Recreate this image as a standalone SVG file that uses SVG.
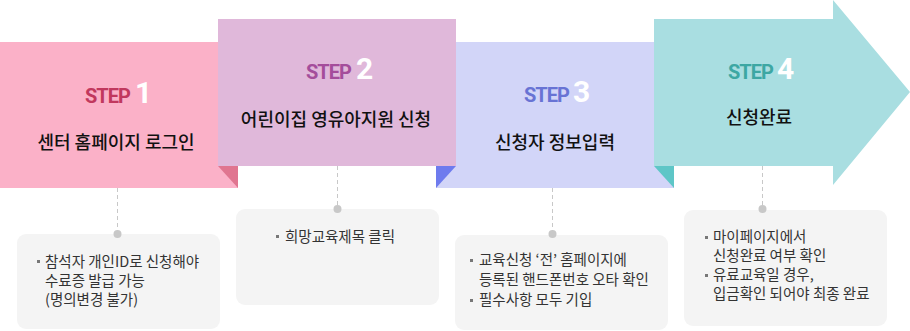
<svg xmlns="http://www.w3.org/2000/svg" width="910" height="331" viewBox="0 0 910 331">
<style>
.kr{font-family:"Noto Sans CJK KR","Noto Sans",sans-serif}
.title{font-size:18px;font-weight:500;fill:#111;text-anchor:middle}
.step{font-family:Roboto,"Liberation Sans",sans-serif;font-weight:700;font-size:20px;letter-spacing:-1px}
.num{font-family:Roboto,"Liberation Sans",sans-serif;font-weight:700;font-size:30px;fill:#fff}
.box{fill:#f4f4f4}
.desc{font-size:14.5px;fill:#333}
.dash{stroke:#c8c8c8;stroke-width:1;stroke-dasharray:4 3;fill:none}
.dot{fill:#c8c8c8}
.bul{fill:#777}
</style>
<g id="step1">
<rect x="0" y="42" width="238" height="146" fill="#fbb1c8"/>
<polygon points="218,166 238,166 238,188" fill="#e07590"/>
<text class="step" x="85" y="103" fill="#c1385e">STEP</text>
<text class="num" x="135" y="103">1</text>
<text class="kr title" x="116" y="149">센터 홈페이지 로그인</text>
</g>
<g id="step3">
<rect x="436" y="42" width="238" height="146" fill="#d2d5f8"/>
<polygon points="436,166 456,166 436,188" fill="#6e7bee"/>
<text class="step" x="524" y="102" fill="#6873d4">STEP</text>
<text class="num" x="573" y="102">3</text>
<text class="kr title" x="555" y="149">신청자 정보입력</text>
</g>
<g id="step2">
<rect x="218" y="19" width="238" height="147" fill="#e0b8da"/>
<text class="step" x="306" y="79" fill="#a44d9b">STEP</text>
<text class="num" x="356" y="79">2</text>
<text class="kr title" x="336" y="126">어린이집 영유아지원 신청</text>
</g>
<g id="step4">
<polygon points="654,19 833,19 833,0 910,92 833,185 833,166 654,166" fill="#a9dee1"/>
<polygon points="654,166 674,166 674,188" fill="#5ec6c7"/>
<text class="step" x="728" y="79" fill="#3da7a3">STEP</text>
<text class="num" x="777" y="79">4</text>
<text class="kr title" x="759" y="124">신청완료</text>
</g>
<g id="connectors">
<line class="dash" x1="117.5" y1="188" x2="117.5" y2="231"/>
<line class="dash" x1="337.5" y1="166" x2="337.5" y2="206"/>
<line class="dash" x1="552.5" y1="188" x2="552.5" y2="231"/>
<line class="dash" x1="762.5" y1="166" x2="762.5" y2="206"/>
</g>
<g id="note1">
<rect class="box" x="17" y="234" width="203" height="95" rx="9"/>
<circle class="dot" cx="117.5" cy="234" r="4"/>
<rect class="bul" x="37" y="260" width="3" height="3"/>
<text class="kr desc" x="45" y="267">참석자 개인ID로 신청해야</text>
<text class="kr desc" x="45" y="286">수료증 발급 가능</text>
<text class="kr desc" x="45" y="305">(명의변경 불가)</text>
</g>
<g id="note2">
<rect class="box" x="236" y="209" width="203" height="96" rx="9"/>
<circle class="dot" cx="337.5" cy="209" r="4"/>
<rect class="bul" x="276" y="235" width="3" height="3"/>
<text class="kr desc" x="285" y="242">희망교육제목 클릭</text>
</g>
<g id="note3">
<rect class="box" x="455" y="235" width="213" height="95" rx="9"/>
<circle class="dot" cx="552.5" cy="234" r="4"/>
<rect class="bul" x="470" y="259" width="3" height="3"/>
<text class="kr desc" x="479" y="265">교육신청 ‘전’ 홈페이지에</text>
<text class="kr desc" x="479" y="285">등록된 핸드폰번호 오타 확인</text>
<rect class="bul" x="470" y="299" width="3" height="3"/>
<text class="kr desc" x="479" y="305">필수사항 모두 기입</text>
</g>
<g id="note4">
<rect class="box" x="684" y="210" width="203" height="116" rx="9"/>
<circle class="dot" cx="762.5" cy="209" r="4"/>
<rect class="bul" x="705" y="236" width="3" height="3"/>
<text class="kr desc" x="713" y="242">마이페이지에서</text>
<text class="kr desc" x="713" y="261">신청완료 여부 확인</text>
<rect class="bul" x="705" y="274" width="3" height="3"/>
<text class="kr desc" x="713" y="280">유료교육일 경우,</text>
<text class="kr desc" x="713" y="299">입금확인 되어야 최종 완료</text>
</g>
</svg>
